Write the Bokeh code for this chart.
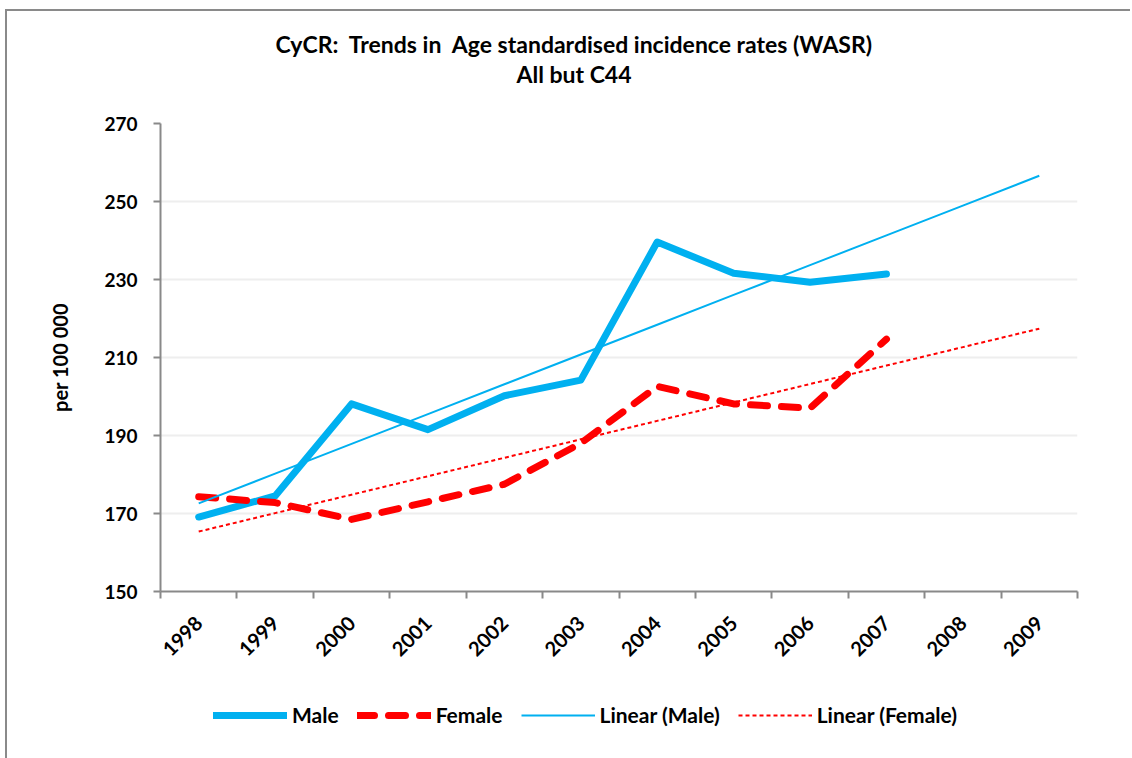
import math
import numpy as np
from bokeh.plotting import figure
from bokeh.layouts import column
from bokeh.models import Range1d, FixedTicker, Title, Legend, LegendItem
from bokeh.embed import file_html
from bokeh.resources import INLINE

# ---- data ----
years = [1998, 1999, 2000, 2001, 2002, 2003, 2004, 2005, 2006, 2007, 2008, 2009]
year_labels = ["1998", "1999", "2000", "2001", "2002", "2003", "2004", "2005", "2006", "2007", "2008", "2009"]
male = [169.1, 174.5, 198.1, 191.5, 200.2, 204.2, 239.6, 231.6, 229.3, 231.4]
female = [174.3, 172.8, 168.5, 173.0, 177.5, 188.0, 202.6, 198.1, 197.0, 214.7]
y_ticks = [150, 170, 190, 210, 230, 250, 270]
series_names = ["Male", "Female", "Linear (Male)", "Linear (Female)"]

title_line1 = "CyCR:\u00a0 Trends in\u00a0 Age standardised incidence rates (WASR)"
title_line2 = "All but C44"
y_label = "per 100 000"

FONT = "Lato"
BLUE = "#00B0F0"
RED = "#FF0000"
AXIS = "#898989"

# line styles of the four series
STYLES = [
    dict(line_color=BLUE, line_width=7, line_cap="round", line_join="round"),
    dict(line_color=RED, line_width=7, line_dash="17 14", line_cap="round", line_join="round"),
    dict(line_color=BLUE, line_width=2),
    dict(line_color=RED, line_width=2, line_dash="4 3"),
]

data_years = years[:len(male)]
# Excel-style linear trendlines, fitted on the observed years, projected forward
m_coef = np.polyfit(data_years, male, 1)
f_coef = np.polyfit(data_years, female, 1)
male_trend = list(np.polyval(m_coef, years))
female_trend = list(np.polyval(f_coef, years))
series = [(data_years, male), (data_years, female), (years, male_trend), (years, female_trend)]

W_LEFT, W_FRAME, W_RIGHT = 153, 917, 53

p = figure(
    title=None,
    frame_width=W_FRAME, frame_height=468,
    min_border_left=W_LEFT, min_border_top=112, min_border_right=W_RIGHT, min_border_bottom=90,
    x_range=Range1d(years[0] - 0.5, years[-1] + 0.5),
    y_range=Range1d(y_ticks[0], y_ticks[-1]),
    output_backend="svg", toolbar_location=None,
)
p.outline_line_color = None
p.background_fill_color = "white"
p.border_fill_color = "white"

# grid
p.xgrid.visible = False
p.ygrid.grid_line_color = "#eeeeee"
p.ygrid.grid_line_width = 2

# y axis
ya = p.yaxis[0]
ya.ticker = FixedTicker(ticks=y_ticks, minor_ticks=[])
ya.axis_label = y_label
ya.axis_label_text_font = FONT
ya.axis_label_text_font_style = "bold"
ya.axis_label_text_font_size = "20px"
ya.axis_label_text_color = "black"
ya.axis_label_standoff = 29
ya.axis_line_color = AXIS
ya.axis_line_width = 2
ya.major_tick_line_color = AXIS
ya.major_tick_line_width = 2
ya.major_tick_out = 7
ya.major_tick_in = 0
ya.minor_tick_line_color = None
ya.major_label_text_font = FONT
ya.major_label_text_font_style = "bold"
ya.major_label_text_font_size = "19px"
ya.major_label_text_color = "black"
ya.major_label_standoff = 16

# x axis: labels at year centres, ticks between categories
xa = p.xaxis[0]
xa.ticker = FixedTicker(ticks=years, minor_ticks=[y - 0.5 for y in years] + [years[-1] + 0.5])
xa.major_label_overrides = {y: s for y, s in zip(years, year_labels)}
xa.major_label_orientation = math.pi / 4
xa.axis_line_color = AXIS
xa.axis_line_width = 2
xa.major_tick_line_color = None
xa.major_tick_out = 0
xa.major_tick_in = 0
xa.minor_tick_line_color = AXIS
xa.minor_tick_line_width = 2
xa.minor_tick_out = 7
xa.minor_tick_in = 0
xa.major_label_text_font = FONT
xa.major_label_text_font_style = "bold"
xa.major_label_text_font_size = "20px"
xa.major_label_text_color = "black"
xa.major_label_standoff = 21

# series
for (sx, sy), st in zip(series, STYLES):
    p.line(sx, sy, **st)

# two-line title: spacer nearest the frame, then line 2, then line 1
p.add_layout(Title(text=" ", text_font=FONT, text_font_size="23px", standoff=6), "above")
p.add_layout(Title(text=title_line2, align="left", offset=356, text_font=FONT,
                   text_font_style="bold", text_font_size="23px", text_color="black",
                   standoff=0), "above")
p.add_layout(Title(text=title_line1, align="left", offset=115, text_font=FONT,
                   text_font_style="bold", text_font_size="23px", text_color="black",
                   standoff=0), "above")

# ---- legend strip below the chart (series drawn out of view, only the key shows) ----
leg_fig = figure(
    width=W_LEFT + W_FRAME + W_RIGHT, height=70,
    min_border_left=W_LEFT, min_border_right=W_RIGHT, min_border_top=0, min_border_bottom=0,
    x_range=Range1d(0, 1), y_range=Range1d(0, 1),
    output_backend="svg", toolbar_location=None,
)
leg_fig.axis.visible = False
leg_fig.grid.visible = False
leg_fig.outline_line_color = None
leg_fig.background_fill_color = "white"
leg_fig.border_fill_color = "white"

items = []
for name, (sx, sy), st in zip(series_names, series, STYLES):
    r = leg_fig.line(sx, sy, **st)
    items.append(LegendItem(label=name, renderers=[r]))

legend = Legend(
    items=items, location=(53, 24), orientation="horizontal",
    glyph_width=74, glyph_height=20, label_height=20, label_standoff=5, spacing=18,
    padding=0, margin=0, border_line_color=None, background_fill_alpha=0,
    label_text_font=FONT, label_text_font_style="bold", label_text_font_size="21px",
    label_text_color="black",
)
leg_fig.add_layout(legend, "center")

layout = column(p, leg_fig, spacing=0)
layout.margin = (9, 0, 0, 5)
layout.styles = {"border-left": "2px solid #8a8a8a", "border-top": "2px solid #8a8a8a",
                 "padding-bottom": "10px"}

open("out.html", "w").write(file_html(layout, INLINE))
